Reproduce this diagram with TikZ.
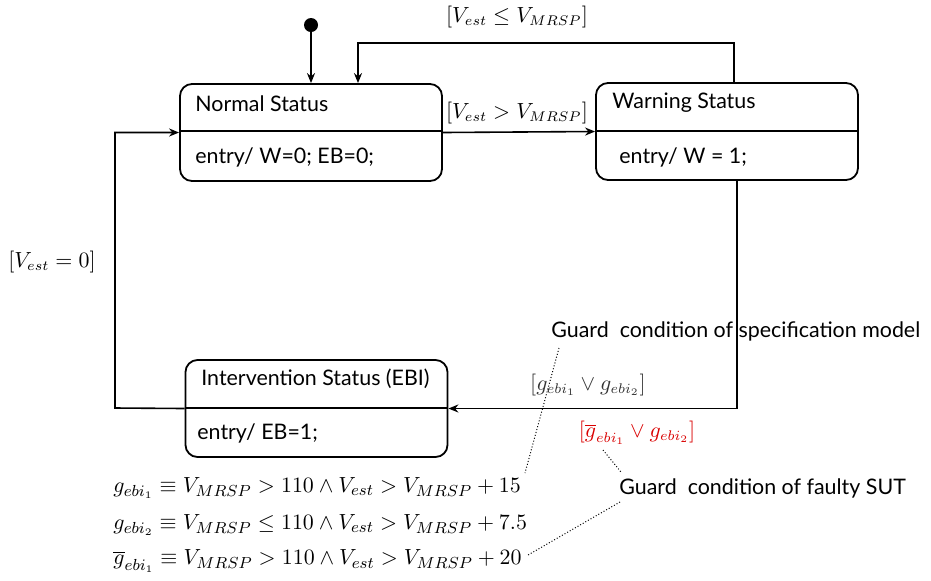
\documentclass[tikz,border=0pt]{standalone}
\usepackage{fontspec}
\setmainfont{Lato}
\usetikzlibrary{arrows.meta}
\begin{document}
\begin{tikzpicture}[x=0.5pt, y=-0.5pt, >={Stealth[length=5pt, width=4pt]}]
		\tikzset{st/.style={draw=black, line width=0.9pt, rounded corners=6pt, minimum width=131pt, minimum height=48.5pt}};
		\tikzset{txt/.style={anchor=west, inner sep=0pt, font=\fontsize{10.7}{12.8}\selectfont}};
		\tikzset{grd/.style={inner sep=0pt, font=\fontsize{10.7}{12.8}\selectfont}};
		\tikzset{eqn/.style={anchor=west, inner sep=0pt, font=\fontsize{10.9}{13}\selectfont}};
		\tikzset{conn/.style={line width=0.8pt}};
		\tikzset{note/.style={densely dotted, line width=0.5pt}};
		\useasboundingbox (0,0) rectangle (931,580);

		\node[circle, fill=black, minimum size=7pt, inner sep=0pt] (init) at (311,25) {};
		\node[st] (normal) at (311,132.5) {};
		\node[st] (warning) at (727,131.5) {};
		\node[st] (interv) at (316.5,408.5) {};

		\draw[line width=0.7pt] (180,131) -- (442,131);
		\draw[line width=0.7pt] (596,131) -- (858,131);
		\draw[line width=0.7pt] (186,408) -- (447,408);

		\node[txt] (normalname) at (195,104) {Normal Status};
		\node[txt] (normalentry) at (195,157) {entry/ W=0; EB=0;};
		\node[txt] (warningname) at (612,103) {Warning Status};
		\node[txt] (warningentry) at (619,157) {entry/ W = 1;};
		\node[txt] (intervname) at (201,379) {Intervention Status (EBI)};
		\node[txt] (interventry) at (197,433) {entry/ EB=1;};

		\coordinate (topcorner) at (358,43);
		\coordinate (leftcorner) at (115,408);

		\draw[conn, ->] (init) -- (normal);
		\draw[conn, ->] (normal.east) -- (warning.west);
		\draw[conn, ->] ([xshift=3.5pt]warning.north) |- (topcorner) -- (normal.north -| topcorner);
		\draw[conn, ->] ([xshift=5pt]warning.south) |- (interv.east);
		\draw[conn, ->] (interv.west) -- (leftcorner) |- (normal.west);

		\node[grd] (gup) at (517,113) {$[V_{est} > V_{MRSP}]$};
		\node[grd] (gdown) at (517,17) {$[V_{est} \leq V_{MRSP}]$};
		\node[grd] (gzero) at (52,262) {$[V_{est} = 0]$};
		\node[grd, text=black!80] (gspec) at (588,385) {$[g_{ebi_1} \vee g_{ebi_2}]$};
		\node[grd, text=red!85!black] (gsut) at (637,433) {$[\overline{g}_{ebi_1} \vee g_{ebi_2}]$};

		\node[txt] (specnote) at (551,331) {Guard\ \ condition of specification model};
		\node[txt] (sutnote) at (619,488) {Guard\ \ condition of faulty SUT};

		\node[eqn] (eqone) at (113,488) {$g_{ebi_1} \equiv V_{MRSP} > 110 \wedge V_{est} > V_{MRSP} + 15$};
		\node[eqn] (eqtwo) at (113,525) {$g_{ebi_2} \equiv V_{MRSP} \leq 110 \wedge V_{est} > V_{MRSP} + 7.5$};
		\node[eqn] (eqthree) at (113,561) {$\overline{g}_{ebi_1} \equiv V_{MRSP} > 110 \wedge V_{est} > V_{MRSP} + 20$};

		\coordinate (specfoot) at (559,348);
		\coordinate (eqoneend) at (525,473);
		\coordinate (sutlabel) at (603,450);
		\coordinate (suthead) at (621,472);
		\coordinate (sutfoot) at (620,502);
		\coordinate (eqthreeend) at (528,555);

		\draw[note] (specfoot) -- (eqoneend);
		\draw[note] (sutlabel) -- (suthead);
		\draw[note] (sutfoot) -- (eqthreeend);

	\end{tikzpicture}
\end{document}
